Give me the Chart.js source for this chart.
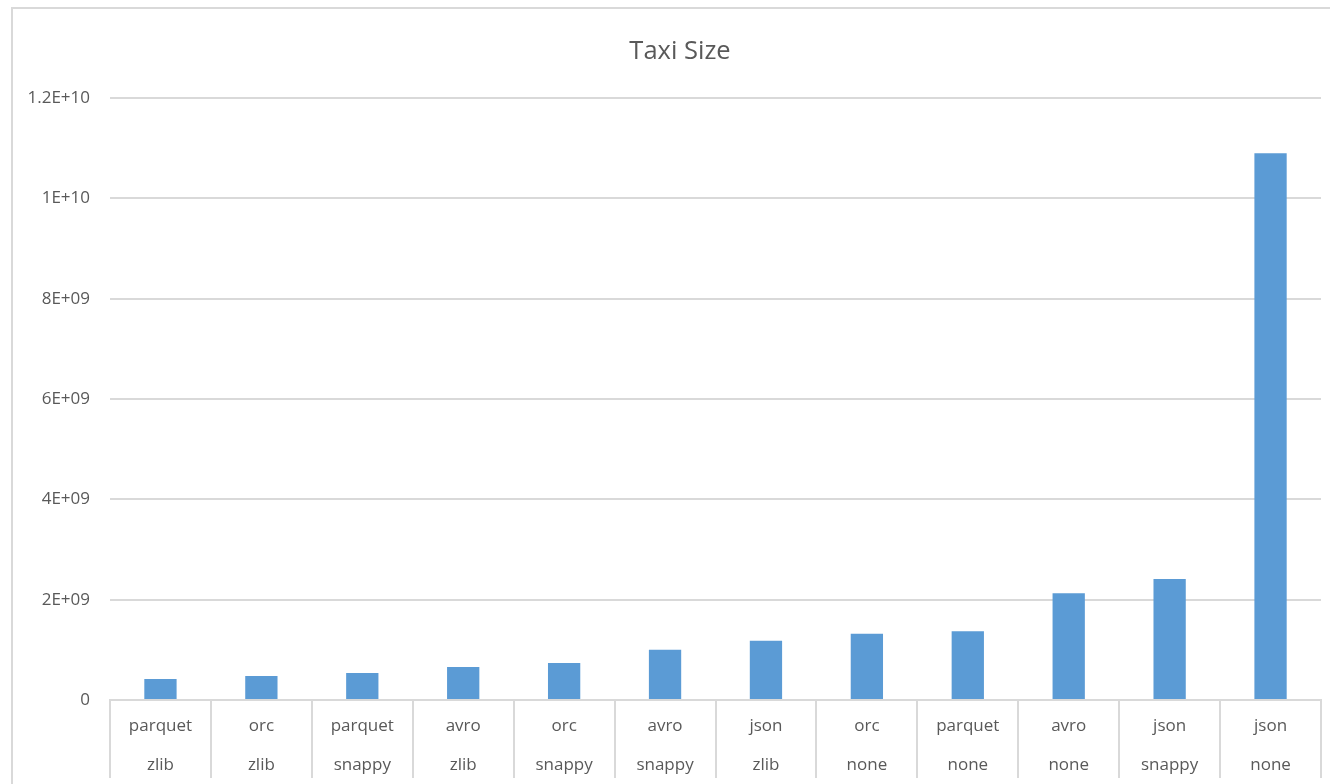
<!DOCTYPE html>
<html>
<head>
<meta charset="utf-8">
<script src="https://cdn.jsdelivr.net/npm/chart.js@4/dist/chart.umd.min.js"></script>
<style>
  html, body { margin: 0; padding: 0; background: #fff; overflow: hidden; }
  #frame {
    position: absolute; left: 11px; top: 7px;
    width: 1400px; height: 850px;
    border-left: 2px solid #d9d9d9; border-top: 2px solid #d9d9d9;
  }
  #wrap { position: absolute; left: 0; top: 0; width: 1334px; height: 775px; }
</style>
</head>
<body>
<div id="frame"><div id="wrap"><canvas id="taxiChart"></canvas></div></div>
<script>
var formats = ['parquet', 'orc', 'parquet', 'avro', 'orc', 'avro', 'json', 'orc', 'parquet', 'avro', 'json', 'json'];
var codecs = ['zlib', 'zlib', 'snappy', 'zlib', 'snappy', 'snappy', 'zlib', 'none', 'none', 'none', 'snappy', 'none'];
var sizes = [0.42e9, 0.48e9, 0.54e9, 0.66e9, 0.74e9, 1.0e9, 1.18e9, 1.32e9, 1.37e9, 2.13e9, 2.41e9, 10.9e9];
var yTickLabels = ['0', '2E+09', '4E+09', '6E+09', '8E+09', '1E+10', '1.2E+10'];

var labels = formats.map(function (f, i) { return [f, codecs[i]]; });
var textColor = '#595959';
var gridColor = '#d9d9d9';

// title centred on the whole chart box, not on the padded area
var centerTitle = {
	id: 'centerTitle',
	afterLayout: function (chart) {
		var t = chart.titleBlock;
		if (t) { t.left = 0; t.right = chart.width; t.width = chart.width; }
	}
};

window.onload = function () {
	var ctx = document.getElementById('taxiChart').getContext('2d');
	taxiChart = new Chart(ctx, {
		type: 'bar',
		plugins: [centerTitle],
		data: {
			labels: labels,
			datasets: [{
				label: 'Taxi Size',
				backgroundColor: '#5b9bd5',
				data: sizes,
				barPercentage: 0.32,
				categoryPercentage: 1
			}]
		},
		options: {
			responsive: true,
			maintainAspectRatio: false,
			animation: false,
			layout: { padding: { left: 0, right: 26, top: 0, bottom: 0 } },
			plugins: {
				legend: { display: false },
				tooltip: { enabled: false },
				title: {
					display: true,
					text: 'Taxi Size',
					color: textColor,
					font: { size: 25.5, family: 'Open Sans', weight: 'normal' },
					padding: { top: 27, bottom: 31.5 }
				}
			},
			scales: {
				x: {
					offset: true,
					grid: {
						offset: true,
						drawOnChartArea: false,
						color: gridColor,
						lineWidth: 2,
						tickLength: 78
					},
					border: { color: gridColor, width: 2 },
					ticks: {
						color: textColor,
						padding: -71.5,
						maxRotation: 0,
						autoSkip: false,
						font: { size: 17, family: 'Open Sans', lineHeight: 2.3 }
					},
					afterFit: function (scale) { scale.height = 84; }
				},
				y: {
					min: 0,
					max: 1.2e10,
					grid: { color: gridColor, lineWidth: 2, drawTicks: false },
					border: { display: false },
					ticks: {
						stepSize: 2e9,
						color: textColor,
						padding: 20,
						font: { size: 17, family: 'Open Sans' },
						callback: function (v, i) { return yTickLabels[i]; }
					},
					afterFit: function (scale) { scale.width = 97; }
				}
			}
		}
	});
}
</script>
</body>
</html>
